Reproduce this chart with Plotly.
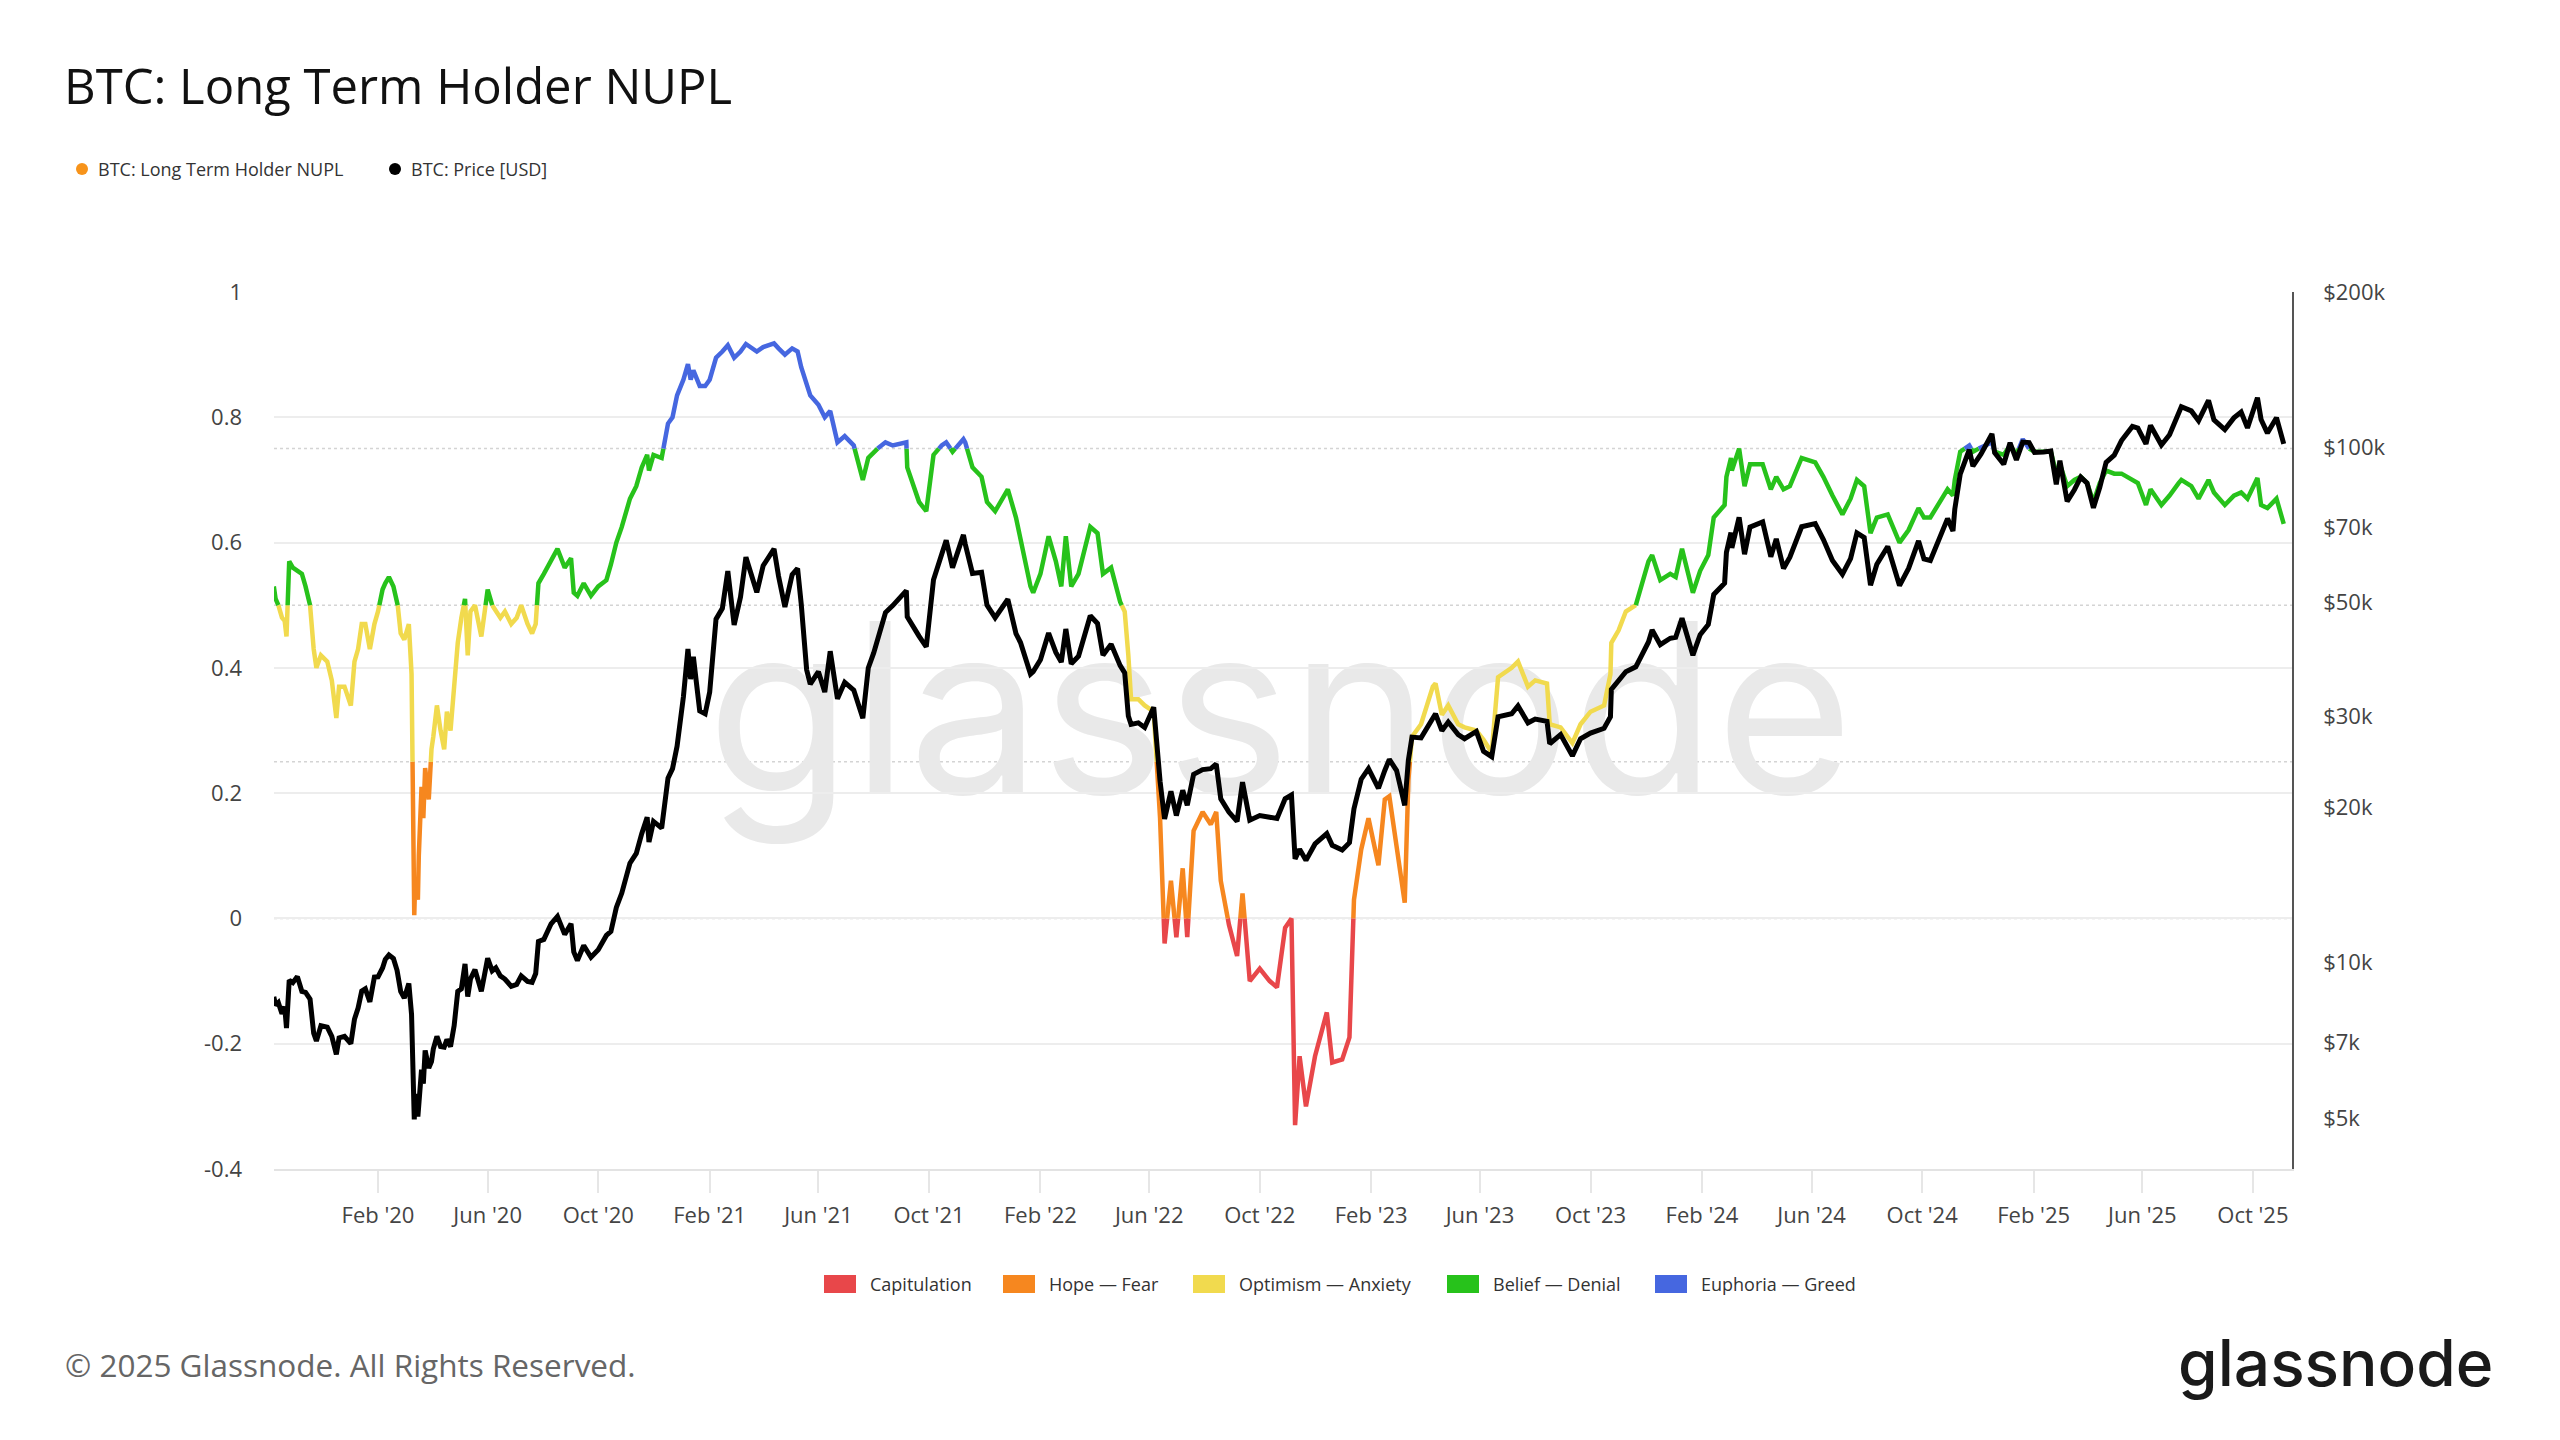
import numpy as np
import pandas as pd
import plotly.graph_objects as go

# ---------------- data ----------------
dates = [
    "2019-10-09", "2019-10-11", "2019-10-14", "2019-10-18", "2019-10-21", "2019-10-23", "2019-10-26", "2019-10-30",
    "2019-11-04", "2019-11-09", "2019-11-13", "2019-11-18", "2019-11-22", "2019-11-25", "2019-11-30", "2019-12-07",
    "2019-12-12", "2019-12-17", "2019-12-20", "2019-12-26", "2020-01-02", "2020-01-06", "2020-01-10", "2020-01-14",
    "2020-01-18", "2020-01-23", "2020-01-28", "2020-02-01", "2020-02-06", "2020-02-09", "2020-02-13", "2020-02-18",
    "2020-02-22", "2020-02-26", "2020-03-01", "2020-03-06", "2020-03-09", "2020-03-12", "2020-03-13", "2020-03-15",
    "2020-03-16", "2020-03-17", "2020-03-19", "2020-03-20", "2020-03-22", "2020-03-24", "2020-03-28", "2020-03-31",
    "2020-04-02", "2020-04-06", "2020-04-10", "2020-04-14", "2020-04-17", "2020-04-21", "2020-04-25", "2020-04-29",
    "2020-05-03", "2020-05-07", "2020-05-10", "2020-05-13", "2020-05-18", "2020-05-25", "2020-06-01", "2020-06-06",
    "2020-06-10", "2020-06-15", "2020-06-20", "2020-06-27", "2020-07-03", "2020-07-08", "2020-07-15", "2020-07-20",
    "2020-07-24", "2020-07-27", "2020-08-02", "2020-08-10", "2020-08-17", "2020-08-25", "2020-09-01", "2020-09-04",
    "2020-09-08", "2020-09-15", "2020-09-23", "2020-10-01", "2020-10-10", "2020-10-15", "2020-10-21", "2020-10-27",
    "2020-11-05", "2020-11-12", "2020-11-18", "2020-11-24", "2020-11-26", "2020-12-01", "2020-12-10", "2020-12-17",
    "2020-12-22", "2020-12-27", "2021-01-03", "2021-01-08", "2021-01-11", "2021-01-14", "2021-01-21", "2021-01-27",
    "2021-02-01", "2021-02-08", "2021-02-15", "2021-02-21", "2021-02-28", "2021-03-07", "2021-03-13", "2021-03-25",
    "2021-04-01", "2021-04-13", "2021-04-18", "2021-04-25", "2021-05-03", "2021-05-09", "2021-05-13", "2021-05-19",
    "2021-05-23", "2021-06-01", "2021-06-08", "2021-06-14", "2021-06-22", "2021-06-30", "2021-07-10", "2021-07-20",
    "2021-07-26", "2021-08-01", "2021-08-14", "2021-08-22", "2021-09-06", "2021-09-07", "2021-09-20", "2021-09-28",
    "2021-10-06", "2021-10-15", "2021-10-20", "2021-10-27", "2021-11-08", "2021-11-10", "2021-11-18", "2021-11-28",
    "2021-12-04", "2021-12-13", "2021-12-27", "2022-01-05", "2022-01-10", "2022-01-21", "2022-01-24", "2022-02-01",
    "2022-02-10", "2022-02-18", "2022-02-24", "2022-03-01", "2022-03-07", "2022-03-15", "2022-03-28", "2022-04-05",
    "2022-04-11", "2022-04-20", "2022-04-30", "2022-05-05", "2022-05-09", "2022-05-12", "2022-05-20", "2022-05-27",
    "2022-06-06", "2022-06-13", "2022-06-18", "2022-06-25", "2022-07-01", "2022-07-08", "2022-07-13", "2022-07-20",
    "2022-07-30", "2022-08-08", "2022-08-14", "2022-08-19", "2022-08-28", "2022-09-06", "2022-09-12", "2022-09-20",
    "2022-10-01", "2022-10-12", "2022-10-20", "2022-10-29", "2022-11-05", "2022-11-09", "2022-11-14", "2022-11-21",
    "2022-12-01", "2022-12-14", "2022-12-20", "2022-12-31", "2023-01-08", "2023-01-13", "2023-01-21", "2023-01-29",
    "2023-02-09", "2023-02-16", "2023-02-21", "2023-03-01", "2023-03-10", "2023-03-14", "2023-03-18", "2023-03-28",
    "2023-04-10", "2023-04-13", "2023-04-20", "2023-04-27", "2023-05-08", "2023-05-15", "2023-05-28", "2023-06-05",
    "2023-06-14", "2023-06-21", "2023-07-06", "2023-07-13", "2023-07-24", "2023-08-01", "2023-08-14", "2023-08-17",
    "2023-08-29", "2023-09-11", "2023-09-20", "2023-10-01", "2023-10-16", "2023-10-23", "2023-10-24", "2023-11-01",
    "2023-11-09", "2023-11-20", "2023-12-04", "2023-12-08", "2023-12-17", "2023-12-28", "2024-01-03", "2024-01-10",
    "2024-01-22", "2024-01-30", "2024-02-08", "2024-02-14", "2024-02-26", "2024-02-28", "2024-03-04", "2024-03-05",
    "2024-03-13", "2024-03-19", "2024-03-25", "2024-04-08", "2024-04-17", "2024-04-23", "2024-05-01", "2024-05-08",
    "2024-05-15", "2024-05-21", "2024-06-05", "2024-06-14", "2024-06-24", "2024-07-05", "2024-07-14", "2024-07-21",
    "2024-07-29", "2024-08-05", "2024-08-12", "2024-08-24", "2024-09-06", "2024-09-16", "2024-09-27", "2024-10-03",
    "2024-10-10", "2024-10-21", "2024-10-29", "2024-11-04", "2024-11-06", "2024-11-12", "2024-11-22", "2024-11-26",
    "2024-12-05", "2024-12-17", "2024-12-20", "2024-12-30", "2025-01-06", "2025-01-13", "2025-01-20", "2025-01-27",
    "2025-02-02", "2025-02-12", "2025-02-20", "2025-02-26", "2025-03-02", "2025-03-10", "2025-03-18", "2025-03-25",
    "2025-04-01", "2025-04-08", "2025-04-15", "2025-04-22", "2025-05-01", "2025-05-09", "2025-05-21", "2025-05-27",
    "2025-06-05", "2025-06-10", "2025-06-22", "2025-07-01", "2025-07-11", "2025-07-14", "2025-07-25", "2025-08-02",
    "2025-08-13", "2025-08-19", "2025-08-31", "2025-09-10", "2025-09-18", "2025-09-25", "2025-10-06", "2025-10-10",
    "2025-10-17", "2025-10-27", "2025-11-04",
]

nupl = [
    0.53, 0.51, 0.50, 0.48, 0.475, 0.45, 0.57, 0.56,
    0.555, 0.55, 0.53, 0.50, 0.43, 0.40, 0.42, 0.41,
    0.38, 0.32, 0.37, 0.37, 0.34, 0.41, 0.43, 0.47,
    0.47, 0.43, 0.47, 0.49, 0.525, 0.535, 0.545, 0.53,
    0.51, 0.455, 0.445, 0.47, 0.39, 0.005, 0.06, 0.04,
    0.03, 0.10, 0.18, 0.21, 0.16, 0.24, 0.19, 0.27,
    0.29, 0.34, 0.30, 0.27, 0.33, 0.30, 0.37, 0.44,
    0.48, 0.51, 0.42, 0.49, 0.50, 0.45, 0.525, 0.50,
    0.49, 0.48, 0.49, 0.47, 0.48, 0.50, 0.47, 0.455,
    0.47, 0.535, 0.55, 0.57, 0.59, 0.56, 0.575, 0.52,
    0.515, 0.535, 0.515, 0.53, 0.54, 0.565, 0.60, 0.625,
    0.67, 0.69, 0.72, 0.74, 0.715, 0.74, 0.735, 0.79,
    0.80, 0.835, 0.86, 0.885, 0.86, 0.875, 0.85, 0.85,
    0.86, 0.895, 0.905, 0.915, 0.895, 0.905, 0.917, 0.905,
    0.912, 0.918, 0.91, 0.90, 0.91, 0.905, 0.88, 0.85,
    0.835, 0.82, 0.80, 0.81, 0.76, 0.77, 0.755, 0.70,
    0.735, 0.745, 0.76, 0.755, 0.76, 0.72, 0.665, 0.65,
    0.74, 0.755, 0.76, 0.745, 0.765, 0.76, 0.72, 0.705,
    0.665, 0.65, 0.685, 0.64, 0.605, 0.53, 0.52, 0.55,
    0.61, 0.57, 0.53, 0.61, 0.53, 0.55, 0.625, 0.615,
    0.55, 0.56, 0.505, 0.49, 0.42, 0.35, 0.35, 0.34,
    0.33, 0.16, -0.04, 0.06, -0.03, 0.08, -0.03, 0.14,
    0.17, 0.15, 0.17, 0.06, -0.01, -0.06, 0.04, -0.10,
    -0.08, -0.10, -0.11, -0.015, 0.0, -0.33, -0.22, -0.30,
    -0.22, -0.15, -0.23, -0.225, -0.19, 0.03, 0.11, 0.16,
    0.085, 0.19, 0.195, 0.12, 0.025, 0.22, 0.29, 0.31,
    0.37, 0.375, 0.325, 0.34, 0.31, 0.305, 0.30, 0.285,
    0.265, 0.385, 0.40, 0.41, 0.37, 0.38, 0.375, 0.31,
    0.305, 0.28, 0.31, 0.33, 0.34, 0.39, 0.44, 0.46,
    0.49, 0.50, 0.57, 0.58, 0.54, 0.55, 0.545, 0.59,
    0.52, 0.555, 0.58, 0.64, 0.66, 0.705, 0.735, 0.715,
    0.75, 0.69, 0.725, 0.725, 0.685, 0.705, 0.685, 0.69,
    0.715, 0.735, 0.728, 0.705, 0.675, 0.645, 0.67, 0.70,
    0.69, 0.615, 0.64, 0.645, 0.60, 0.62, 0.655, 0.64,
    0.64, 0.665, 0.685, 0.675, 0.70, 0.745, 0.755, 0.745,
    0.752, 0.76, 0.745, 0.74, 0.755, 0.74, 0.765, 0.75,
    0.745, 0.745, 0.745, 0.71, 0.725, 0.69, 0.70, 0.705,
    0.695, 0.665, 0.695, 0.715, 0.71, 0.71, 0.70, 0.695,
    0.66, 0.685, 0.66, 0.675, 0.695, 0.70, 0.69, 0.67,
    0.70, 0.68, 0.66, 0.675, 0.68, 0.67, 0.703, 0.66,
    0.655, 0.67, 0.63,
]

price_usd = [
    8590, 8270, 8370, 7960, 8220, 7470, 9250, 9150,
    9400, 8800, 8760, 8500, 7300, 7050, 7550, 7500,
    7200, 6640, 7150, 7200, 6970, 7770, 8170, 8810,
    8900, 8400, 9380, 9390, 9770, 10150, 10350, 10190,
    9670, 8800, 8540, 9120, 7940, 4970, 5560, 5390,
    5030, 5420, 6190, 6200, 5830, 6760, 6250, 6430,
    6800, 7200, 6880, 6860, 7100, 6880, 7550, 8800,
    8900, 9950, 8600, 9300, 9700, 8800, 10200, 9650,
    9780, 9430, 9300, 9000, 9080, 9430, 9200, 9160,
    9530, 11000, 11100, 11900, 12300, 11350, 11900, 10500,
    10100, 10800, 10250, 10600, 11300, 11500, 12800, 13650,
    15600, 16300, 17800, 19150, 17150, 18800, 18250, 22800,
    23800, 26300, 32800, 40600, 35500, 39200, 30800, 30400,
    33500, 46400, 48700, 57500, 45200, 51200, 61200, 52300,
    58900, 63500, 56200, 49000, 56600, 58200, 49700, 37000,
    34700, 36700, 33500, 40200, 32500, 35000, 33800, 29800,
    37300, 39900, 47800, 49300, 52700, 46900, 43000, 41000,
    55300, 61500, 66000, 58400, 67600, 64900, 56900, 57200,
    49400, 46700, 50700, 43500, 41800, 36300, 36700, 38700,
    43600, 40000, 38300, 44400, 38000, 39300, 47100, 45500,
    39500, 41500, 37700, 36500, 30100, 29000, 29200, 28600,
    31300, 22500, 19000, 21500, 19300, 21600, 20200, 23200,
    23700, 23800, 24300, 20800, 19600, 18800, 22400, 18900,
    19300, 19150, 19050, 20800, 21150, 15900, 16600, 15800,
    17000, 17800, 16900, 16550, 17100, 19900, 22700, 23800,
    21800, 23600, 24800, 23600, 20200, 24700, 27400, 27300,
    29700, 30400, 28200, 29300, 27700, 27200, 28100, 25700,
    25100, 30000, 30400, 31500, 29200, 29700, 29400, 26600,
    27700, 25200, 27200, 27900, 28500, 30000, 33900, 35400,
    36700, 37500, 41900, 44200, 41400, 42600, 42800, 46600,
    39500, 43300, 45300, 51800, 54500, 62500, 68300, 63800,
    73100, 62000, 70000, 71600, 61300, 66400, 58200, 61200,
    66200, 70100, 71100, 66200, 60300, 56700, 60800, 68200,
    66800, 54000, 59300, 64200, 53900, 58200, 65800, 60700,
    60300, 67400, 72700, 68800, 75800, 88700, 98900, 91900,
    97000, 106100, 97600, 92700, 102000, 94500, 102300, 102100,
    97700, 97900, 98300, 84700, 94200, 78500, 82700, 87500,
    85200, 76300, 83600, 93500, 96500, 103000, 109700, 108900,
    101500, 110200, 101000, 105700, 117500, 119800, 117600, 112600,
    123300, 113000, 108200, 114000, 117000, 109000, 124700, 113200,
    106500, 114100, 101500,
]

zone_names = ["Capitulation", "Hope \u2014 Fear", "Optimism \u2014 Anxiety", "Belief \u2014 Denial", "Euphoria \u2014 Greed"]
zone_colors = ["#E8474A", "#F6871F", "#F1DA4E", "#27C21B", "#4667E0"]
zone_edges = [0.0, 0.25, 0.5, 0.75]

nupl_ticks = [-0.4, -0.2, 0, 0.2, 0.4, 0.6, 0.8, 1]
nupl_tick_text = ["-0.4", "-0.2", "0", "0.2", "0.4", "0.6", "0.8", "1"]
price_ticks = [5000, 7000, 10000, 20000, 30000, 50000, 70000, 100000, 200000]
price_tick_text = ["$5k", "$7k", "$10k", "$20k", "$30k", "$50k", "$70k", "$100k", "$200k"]
x_ticks = pd.date_range("2020-02-01", "2025-10-01", freq="4MS")

series_names = ["BTC: Long Term Holder NUPL", "BTC: Price [USD]"]
series_colors = ["#F7931A", "#000000"]

# ---------------- split NUPL line by zone ----------------
t_ms = pd.to_datetime(pd.Series(dates)).astype("int64").to_numpy() / 1e6
vals = np.asarray(nupl, dtype=float)


def zone_of(v):
    return int(np.searchsorted(zone_edges, v, side="right"))


seg_t = {k: [] for k in range(5)}
seg_v = {k: [] for k in range(5)}
last_zone = None
for i in range(len(vals) - 1):
    t0, v0, t1, v1 = t_ms[i], vals[i], t_ms[i + 1], vals[i + 1]
    cuts = [c for c in zone_edges if (v0 - c) * (v1 - c) < 0]
    cuts.sort(reverse=(v1 < v0))
    pts = [(t0, v0)] + [(t0 + (c - v0) / (v1 - v0) * (t1 - t0), c) for c in cuts] + [(t1, v1)]
    for (ta, va), (tb, vb) in zip(pts[:-1], pts[1:]):
        z = zone_of((va + vb) / 2)
        if z == last_zone:
            seg_t[z].append(tb)
            seg_v[z].append(vb)
        else:
            if seg_t[z]:
                seg_t[z].append(None)
                seg_v[z].append(None)
            seg_t[z] += [ta, tb]
            seg_v[z] += [va, vb]
        last_zone = z


def to_dt(lst):
    return [pd.Timestamp(int(round(t)), unit="ms") if t is not None else None for t in lst]


fig = go.Figure()
for z in range(5):
    fig.add_trace(go.Scatter(
        x=to_dt(seg_t[z]), y=seg_v[z], mode="lines", name=zone_names[z],
        line=dict(color=zone_colors[z], width=4.5), connectgaps=False,
        showlegend=False, hoverinfo="skip", yaxis="y",
    ))

fig.add_trace(go.Scatter(
    x=pd.to_datetime(dates), y=price_usd, mode="lines", name=series_names[1],
    line=dict(color=series_colors[1], width=5), showlegend=False, hoverinfo="skip", yaxis="y2",
))

# ---------------- layout ----------------
W, H = 2560, 1440
L, R, T, B = 274, 2292, 292, 1169


def px_x(px):
    return (px - L) / (R - L)


def px_y(py):
    return (B - py) / (B - T)


FONT = "Open Sans, Noto Sans, sans-serif"
TXT = "#444444"

shapes = []
annotations = []

# zone threshold dotted lines
for e in zone_edges:
    shapes.append(dict(type="line", xref="paper", yref="y", x0=0, x1=1, y0=e, y1=e,
                       line=dict(color="#d4d4d4", width=1.5, dash="dot"), layer="below"))

# watermark
shapes.append(dict(type="rect", xref="paper", yref="paper",
                   x0=px_x(700), x1=px_x(1860), y0=px_y(800), y1=px_y(600),
                   line=dict(width=0), fillcolor="rgba(0,0,0,0)", layer="below",
                   label=dict(text="glassnode", textposition="middle center",
                              font=dict(size=236, color="#e9e9e9", family="Inter"))))

# top legend
top_leg = [(82, 96), (395, 409)]
for (cx, tx), nm, col in zip(top_leg, series_names, series_colors):
    shapes.append(dict(type="circle", xref="paper", yref="paper", xsizemode="pixel", ysizemode="pixel",
                       xanchor=px_x(cx), yanchor=px_y(169), x0=-6, x1=6, y0=-6, y1=6,
                       fillcolor=col, line=dict(width=0)))
    annotations.append(dict(text=nm, xref="paper", yref="paper", x=px_x(tx), y=px_y(169),
                            xanchor="left", yanchor="middle", showarrow=False,
                            font=dict(size=18, color="#333333", family=FONT)))

# bottom zone legend
rect_left = [824, 1003, 1193, 1447, 1655]
for lx, nm, col in zip(rect_left, zone_names, zone_colors):
    shapes.append(dict(type="rect", xref="paper", yref="paper",
                       x0=px_x(lx), x1=px_x(lx + 32), y0=px_y(1293), y1=px_y(1275),
                       fillcolor=col, line=dict(width=0)))
    annotations.append(dict(text=nm, xref="paper", yref="paper", x=px_x(lx + 44), y=px_y(1284),
                            xanchor="left", yanchor="middle", showarrow=False,
                            font=dict(size=18, color="#333333", family=FONT)))

# footer
annotations.append(dict(text="\u00a9 2025 Glassnode. All Rights Reserved.", xref="paper", yref="paper",
                        x=px_x(63), y=px_y(1364), xanchor="left", yanchor="middle", showarrow=False,
                        font=dict(size=31.5, color="#666666", family=FONT)))
annotations.append(dict(text="glassnode", xref="paper", yref="paper",
                        x=px_x(2495), y=px_y(1362), xanchor="right", yanchor="middle", showarrow=False,
                        font=dict(size=64, color="#1a1a1a", family="Inter", weight=500)))

fig.update_layout(
    width=W, height=H,
    margin=dict(l=L, r=W - R, t=T, b=H - B, pad=0),
    paper_bgcolor="white", plot_bgcolor="white",
    showlegend=False, hovermode=False,
    font=dict(family=FONT, color=TXT),
    title=dict(text="BTC: Long Term Holder NUPL", xref="container", yref="container",
               x=64 / W, y=1 - 87 / H, xanchor="left", yanchor="middle",
               font=dict(size=49, color="#111111", family=FONT)),
    xaxis=dict(
        type="date", range=["2019-10-09 05:00", "2025-11-13 03:00"],
        tickvals=x_ticks, tickformat="%b '%y",
        ticks="outside", ticklen=22, tickwidth=1.5, tickcolor="#e6e6e6",
        showgrid=False, zeroline=False, showline=True, linecolor="#e3e3e3", linewidth=2,
        ticklabelstandoff=4, tickfont=dict(size=22, color=TXT),
    ),
    yaxis=dict(
        range=[-0.4, 1], tickvals=nupl_ticks, ticktext=nupl_tick_text,
        showgrid=True, gridcolor="#ededed", gridwidth=1.5, zeroline=False, showline=False,
        ticks="", ticklabelstandoff=31, tickfont=dict(size=22, color=TXT),
    ),
    yaxis2=dict(
        type="log", range=[np.log10(3981), np.log10(200000)], overlaying="y", side="right",
        tickvals=price_ticks, ticktext=price_tick_text, showgrid=False, zeroline=False,
        showline=True, linecolor="#555555", linewidth=1.5, ticks="", ticklabelstandoff=25,
        tickfont=dict(size=22, color=TXT),
    ),
    shapes=shapes,
    annotations=annotations,
)

fig.write_html("out.html", config={"displayModeBar": False})
